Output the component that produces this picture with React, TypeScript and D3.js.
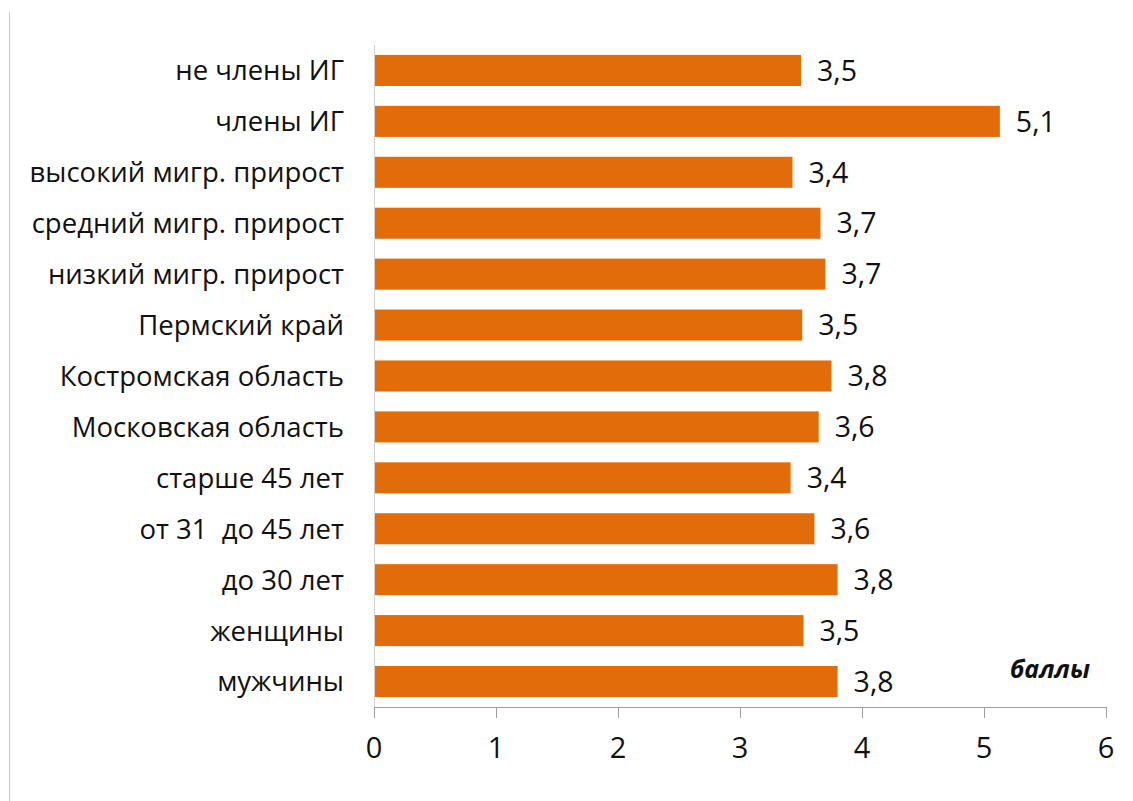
import React from "react";
import * as d3 from "d3";

const categories = [
  "не члены ИГ",
  "члены ИГ",
  "высокий мигр. прирост",
  "средний мигр. прирост",
  "низкий мигр. прирост",
  "Пермский край",
  "Костромская область",
  "Московская область",
  "старше 45 лет",
  "от 31  до 45 лет",
  "до 30 лет",
  "женщины",
  "мужчины",
];
const values = [3.5, 5.13, 3.43, 3.66, 3.7, 3.51, 3.75, 3.645, 3.415, 3.61, 3.8, 3.52, 3.8];
const valueLabels = ["3,5", "5,1", "3,4", "3,7", "3,7", "3,5", "3,8", "3,6", "3,4", "3,6", "3,8", "3,5", "3,8"];
const xTicks = [0, 1, 2, 3, 4, 5, 6];
const unitLabel = "баллы";

const W = 1133;
const H = 801;
const FONT = "'Open Sans', 'Noto Sans', sans-serif";

export default function App() {
  const left = 374;
  const right = 1106;
  const top = 45;
  const bottom = 707;
  const x = d3.scaleLinear().domain([0, 6]).range([left, right]);
  const y = d3
    .scaleBand<string>()
    .domain(categories)
    .range([top, bottom])
    .paddingInner(0.39)
    .paddingOuter(0.195);
  const bw = y.bandwidth();

  return (
    <svg
      width={W}
      height={H}
      style={{ position: "absolute", left: 0, top: 0, background: "#fff" }}
      fontFamily={FONT}
    >
      <rect x={0} y={0} width={W} height={H} fill="#fff" />
      <line x1={9.5} x2={9.5} y1={12} y2={H} stroke="#c8c8c8" strokeWidth={1} />
      {categories.map((c, i) => (
        <g key={c}>
          <rect
            x={x(0)}
            y={y(c)!}
            width={x(values[i]) - x(0)}
            height={bw}
            fill="#E36C0A"
          />
          <text
            x={x(values[i]) + 16}
            y={y(c)! + bw / 2}
            dy="0.36em"
            fontSize={28.5}
            fill="#111"
            style={{ whiteSpace: "pre" }}
          >
            {valueLabels[i]}
          </text>
          <text
            x={344}
            y={y(c)! + bw / 2}
            dy="0.36em"
            textAnchor="end"
            fontSize={27.5}
            fill="#111"
            style={{ whiteSpace: "pre" }}
          >
            {c}
          </text>
        </g>
      ))}
      <line x1={left + 0.5} x2={left + 0.5} y1={top} y2={bottom} stroke="#d0d0d0" strokeWidth={1} />
      <line x1={left} x2={right + 0.5} y1={bottom + 0.5} y2={bottom + 0.5} stroke="#a0a0a0" strokeWidth={1} />
      {xTicks.map((t) => (
        <g key={t}>
          <line
            x1={Math.round(x(t)) + 0.5}
            x2={Math.round(x(t)) + 0.5}
            y1={bottom}
            y2={bottom + 11}
            stroke="#a0a0a0"
            strokeWidth={1}
          />
          <text x={x(t)} y={758} textAnchor="middle" fontSize={29} fill="#111">
            {t}
          </text>
        </g>
      ))}
      <text
        x={1090}
        y={678}
        textAnchor="end"
        fontSize={25}
        fontStyle="italic"
        fontWeight="bold"
        fill="#111"
      >
        {unitLabel}
      </text>
    </svg>
  );
}
